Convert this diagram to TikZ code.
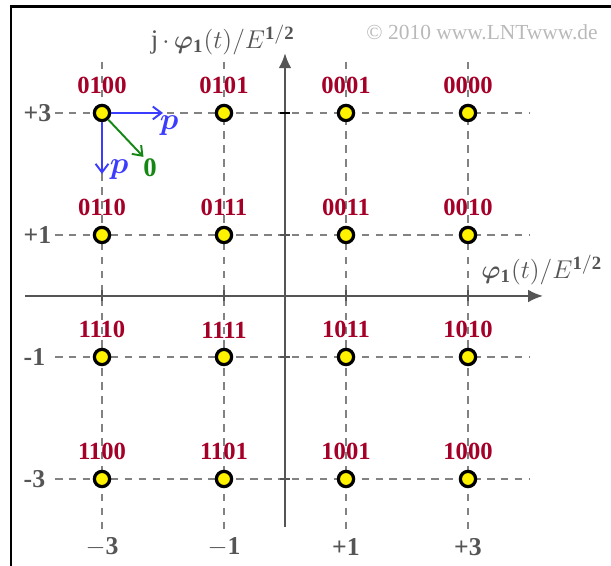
\documentclass[tikz,border=0pt]{standalone}
\usepackage{amsmath}
\usepackage{bm}
\usepackage{fontspec}
\setmainfont{Liberation Serif}
\usetikzlibrary{positioning,arrows.meta}

\definecolor{bitred}{RGB}{165,0,40}
\definecolor{axisgray}{RGB}{85,85,85}
\definecolor{gridgray}{RGB}{130,130,130}
\definecolor{arrowblue}{RGB}{60,60,255}
\definecolor{arrowgreen}{RGB}{20,135,20}

\begin{document}
\begin{tikzpicture}[
		% Signal points of the constellation
		sigpoint/.style={circle, draw=black, fill=yellow, line width=1.5pt, inner sep=0pt, minimum size=0.25cm},
		% Bit labels above the signal points
		bitlabel/.style={text=bitred, font=\fontsize{11.5}{13}\selectfont\bfseries, inner sep=0pt},
		% Grid and axes
		gridline/.style={gridgray, line width=0.5pt, dash pattern=on 3.5pt off 3pt},
		axisline/.style={axisgray, line width=1pt, -{Latex[length=7pt,width=6pt]}},
		ticklabel/.style={text=axisgray, font=\fontsize{12}{14}\selectfont\bfseries, inner sep=0pt},
		% Neighbour arrows
		bluearrow/.style={arrowblue, line width=0.9pt, -{Straight Barb[length=4pt,width=6pt]}},
		greenarrow/.style={arrowgreen, line width=0.9pt, -{Straight Barb[length=4pt,width=6pt]}}
		]
		
		\useasboundingbox (-4.672,-4.426) rectangle (5.344,4.852);
		
		% =========================================================================
		% FRAME (left and top edge only)
		% =========================================================================
		\draw[black, line width=1.3pt] (-4.49,-4.426) -- (-4.49,4.74) -- (5.344,4.74);
		
		\node[text=gray!55, font=\fontsize{10}{12}\selectfont] (copy) at (3.23,4.33) {\textcopyright\ 2010 www.LNTwww.de};
		
		% =========================================================================
		% DASHED GRID
		% =========================================================================
		\draw[gridline] (-3.77,3) -- (4.02,3);
		\draw[gridline] (-3.77,1) -- (4.02,1);
		\draw[gridline] (-3.77,-1) -- (4.02,-1);
		\draw[gridline] (-3.77,-3) -- (4.02,-3);
		\draw[gridline] (-3,3.84) -- (-3,-3.89);
		\draw[gridline] (-1,3.84) -- (-1,-3.89);
		\draw[gridline] (1,3.84) -- (1,-3.89);
		\draw[gridline] (3,3.84) -- (3,-3.89);
		
		% =========================================================================
		% AXES
		% =========================================================================
		\coordinate (xstart) at (-4.26,0);
		\coordinate (xend) at (4.23,0);
		\coordinate (ystart) at (0,-3.79);
		\coordinate (yend) at (0,3.98);
		\draw[axisline] (xstart) -- (xend);
		\draw[axisline] (ystart) -- (yend);
		
		\draw[axisgray, line width=0.8pt] (-3,-0.09) -- (-3,0.09);
		\draw[axisgray, line width=0.8pt] (-1,-0.09) -- (-1,0.09);
		\draw[axisgray, line width=0.8pt] (1,-0.09) -- (1,0.09);
		\draw[axisgray, line width=0.8pt] (3,-0.09) -- (3,0.09);
		\draw[black, line width=0.8pt] (-0.09,3) -- (0.09,3);
		\draw[axisgray, line width=0.8pt] (-0.09,1) -- (0.09,1);
		\draw[axisgray, line width=0.8pt] (-0.09,-1) -- (0.09,-1);
		\draw[axisgray, line width=0.8pt] (-0.09,-3) -- (0.09,-3);
		
		\node[text=axisgray, font=\fontsize{12.5}{14}\selectfont] (ylabel) at (-1.02,4.2)
		{j$\,\cdot\,\bm{\varphi}_{\mathbf{1}}(t)/E^{\mathbf{1/2}}$};
		\node[text=axisgray, font=\fontsize{12.5}{14}\selectfont] (xlabel) at (4.21,0.43)
		{$\bm{\varphi}_{\mathbf{1}}(t)/E^{\mathbf{1/2}}$};
		
		% tick labels
		\node[ticklabel, anchor=west] (lp3) at (-4.29,3) {+3};
		\node[ticklabel, anchor=west] (lp1) at (-4.29,1) {+1};
		\node[ticklabel, anchor=west] (lm1) at (-4.29,-1) {-1};
		\node[ticklabel, anchor=west] (lm3) at (-4.29,-3) {-3};
		\node[ticklabel] (bm3) at (-3,-4.11) {$-$3};
		\node[ticklabel] (bm1) at (-1,-4.11) {$-$1};
		\node[ticklabel] (bp1) at (1,-4.11) {+1};
		\node[ticklabel] (bp3) at (3,-4.11) {+3};
		
		% =========================================================================
		% SIGNAL POINTS WITH BIT LABELS
		% =========================================================================
		\node[sigpoint] (p0100) at (-3,3) {};
		\node[sigpoint] (p0101) at (-1,3) {};
		\node[sigpoint] (p0001) at (1,3) {};
		\node[sigpoint] (p0000) at (3,3) {};
		\node[sigpoint] (p0110) at (-3,1) {};
		\node[sigpoint] (p0111) at (-1,1) {};
		\node[sigpoint] (p0011) at (1,1) {};
		\node[sigpoint] (p0010) at (3,1) {};
		\node[sigpoint] (p1110) at (-3,-1) {};
		\node[sigpoint] (p1111) at (-1,-1) {};
		\node[sigpoint] (p1011) at (1,-1) {};
		\node[sigpoint] (p1010) at (3,-1) {};
		\node[sigpoint] (p1100) at (-3,-3) {};
		\node[sigpoint] (p1101) at (-1,-3) {};
		\node[sigpoint] (p1001) at (1,-3) {};
		\node[sigpoint] (p1000) at (3,-3) {};
		
		\node[bitlabel, above=0.15 of p0100] (b0100) {0100};
		\node[bitlabel, above=0.15 of p0101] (b0101) {0101};
		\node[bitlabel, above=0.15 of p0001] (b0001) {0001};
		\node[bitlabel, above=0.15 of p0000] (b0000) {0000};
		\node[bitlabel, above=0.15 of p0110] (b0110) {0110};
		\node[bitlabel, above=0.15 of p0111] (b0111) {0111};
		\node[bitlabel, above=0.15 of p0011] (b0011) {0011};
		\node[bitlabel, above=0.15 of p0010] (b0010) {0010};
		\node[bitlabel, above=0.15 of p1110] (b1110) {1110};
		\node[bitlabel, above=0.15 of p1111] (b1111) {1111};
		\node[bitlabel, above=0.15 of p1011] (b1011) {1011};
		\node[bitlabel, above=0.15 of p1010] (b1010) {1010};
		\node[bitlabel, above=0.15 of p1100] (b1100) {1100};
		\node[bitlabel, above=0.15 of p1101] (b1101) {1101};
		\node[bitlabel, above=0.15 of p1001] (b1001) {1001};
		\node[bitlabel, above=0.15 of p1000] (b1000) {1000};
		
		% =========================================================================
		% NEIGHBOUR ARROWS AT 0100
		% =========================================================================
		\coordinate (right) at (-2.0,3);
		\coordinate (down) at (-3,2.0);
		\coordinate (diag) at (-2.32,2.28);
		\draw[bluearrow] (p0100) -- (right);
		\draw[bluearrow] (p0100) -- (down);
		\draw[greenarrow] (p0100) -- (diag);
		
		\node[text=arrowblue, font=\fontsize{13.5}{15}\selectfont] (pright) at (-1.9,2.8) {$\bm{p}$};
		\node[text=arrowblue, font=\fontsize{13.5}{15}\selectfont] (pdown) at (-2.72,2.07) {$\bm{p}$};
		\node[text=arrowgreen, font=\fontsize{12.5}{14}\selectfont\bfseries] (zero) at (-2.21,2.1) {0};
		
	\end{tikzpicture}
\end{document}
